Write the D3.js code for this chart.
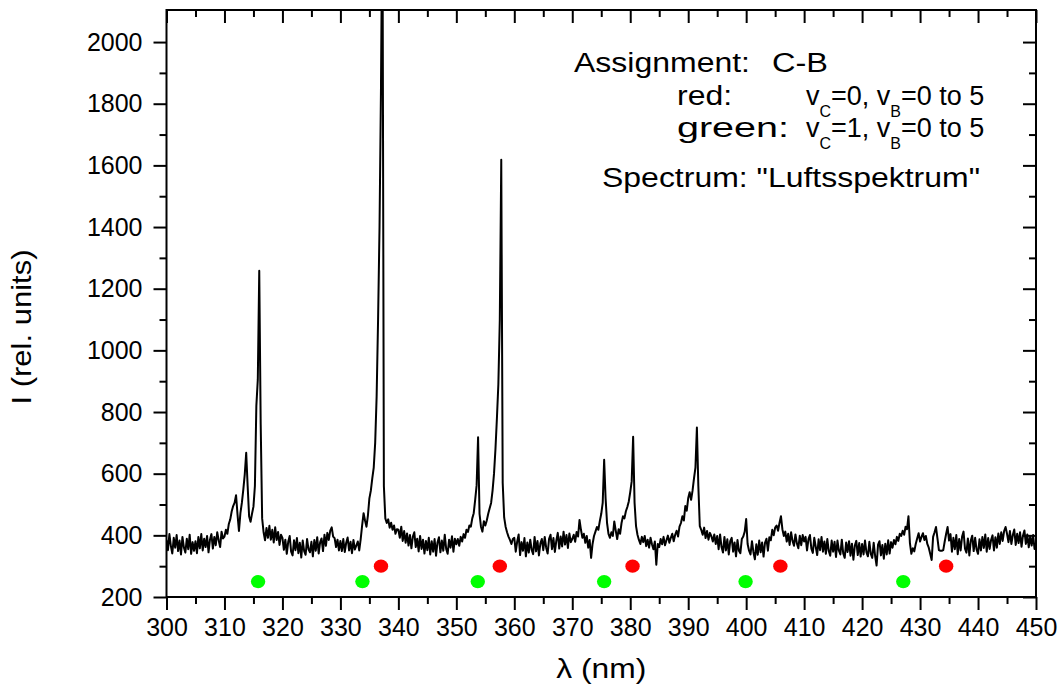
<!DOCTYPE html>
<html lang="en">
<head>
<meta charset="UTF-8">
<title>C-B bands, Luftsspektrum</title>
<script src="https://cdnjs.cloudflare.com/ajax/libs/d3/7.8.5/d3.min.js"></script>
<style>
body { margin: 0; background: #fff; }
text { font-family: Arial, "Liberation Sans", sans-serif; fill: #000; }
</style>
</head>
<body>
<svg id="chart" width="1061" height="688"></svg>
<script>
const lambdaStart = 300;
const lambdaStep = 0.25;
const intensity = [
	385, 352, 404, 366, 341, 392, 360, 401, 349, 383, 338, 395, 361, 344, 389, 355, 402, 340, 378, 350,
	381, 342, 395, 358, 404, 351, 389, 362, 398, 345, 386, 404, 357, 395, 368, 410, 384, 362, 412, 390,
	396, 418, 405, 437, 452, 478, 495, 506, 530, 468, 414, 472, 505, 548, 598, 668, 560, 462, 444, 470,
	493, 560, 820, 905, 1258, 760, 455, 410, 384, 424, 392, 431, 386, 418, 377, 426, 385, 411, 369, 402,
	392, 353, 386, 340, 379, 398, 347, 335, 384, 352, 391, 342, 376, 328, 383, 349, 337, 388, 355, 345,
	379, 332, 385, 350, 394, 341, 377, 390, 349, 402, 366, 408, 385, 415, 426, 396, 391, 362, 386, 351,
	382, 349, 388, 346, 376, 393, 351, 379, 342, 385, 354, 367, 380, 351, 388, 432, 472, 448, 428, 465,
	520, 545, 585, 620, 700, 850, 1100, 1400, 1850, 2500, 560, 455, 440, 452, 425, 441, 418, 432, 405, 420,
	418, 392, 428, 382, 414, 376, 406, 367, 401, 358, 396, 410, 362, 389, 348, 398, 356, 386, 341, 382,
	352, 392, 338, 381, 347, 388, 334, 377, 394, 345, 383, 350, 402, 356, 340, 386, 360, 397, 347, 389,
	371, 388, 366, 395, 380, 404, 392, 418, 411, 432, 428, 455, 472, 515, 562, 718, 470, 428, 412, 446,
	432, 448, 470, 488, 505, 545, 600, 680, 780, 890, 1100, 1618, 570, 458, 428, 410, 396, 385, 372, 388,
	392, 347, 380, 403, 336, 378, 350, 391, 332, 377, 344, 386, 353, 339, 395, 348, 382, 335, 374, 388,
	352, 395, 360, 341, 389, 402, 355, 391, 346, 383, 408, 357, 396, 364, 412, 370, 401, 359, 406, 378,
	388, 402, 379, 411, 396, 450, 418, 392, 405, 376, 398, 360, 385, 327, 372, 398, 412, 427, 418, 446,
	470, 505, 645, 520, 440, 405, 392, 410, 398, 445, 415, 388, 420, 405, 440, 462, 455, 478, 492, 510,
	540, 575, 720, 505, 430, 402, 385, 372, 395, 378, 398, 365, 386, 360, 392, 371, 355, 380, 305, 372,
	362, 388, 371, 395, 368, 384, 399, 376, 392, 405, 381, 402, 415, 396, 428, 440, 462, 448, 495, 480,
	520, 540, 515, 545, 585, 620, 750, 560, 430, 418, 402, 425, 391, 414, 386, 408, 397, 380, 403, 372,
	398, 355, 403, 362, 344, 395, 351, 387, 338, 381, 392, 347, 377, 332, 385, 350, 342, 388, 396, 412,
	453, 372, 350, 338, 381, 346, 322, 371, 337, 383, 345, 377, 331, 376, 389, 350, 394, 384, 418, 400,
	425, 432, 415, 440, 462, 420, 398, 412, 380, 405, 369, 410, 382, 366, 403, 374, 358, 399, 368, 401,
	380, 395, 351, 388, 401, 357, 343, 392, 363, 336, 387, 352, 395, 347, 380, 340, 388, 349, 334, 383,
	347, 379, 330, 383, 350, 338, 386, 341, 327, 377, 346, 381, 334, 373, 321, 367, 382, 336, 375, 331,
	372, 338, 383, 345, 332, 379, 340, 327, 376, 333, 302, 370, 381, 335, 369, 324, 373, 338, 384, 341,
	378, 360, 385, 371, 395, 382, 405, 398, 415, 402, 428, 420, 462, 375, 340, 358, 348, 372, 390, 407,
	380, 395, 407, 385, 398, 372, 360, 340, 320, 395, 410, 427, 390, 352, 350, 350, 352, 380, 405, 427,
	383, 404, 347, 392, 355, 401, 339, 388, 351, 396, 412, 357, 344, 390, 335, 383, 399, 349, 392, 354,
	340, 387, 351, 395, 359, 403, 347, 391, 356, 385, 400, 351, 394, 360, 406, 372, 410, 382, 414, 427,
	405, 378, 414, 372, 401, 419, 369, 405, 375, 410, 363, 399, 416, 372, 403, 361, 397, 367, 401, 356, 372
];

// band assignments (nm) and the level they are marked at
const redBands = [337.0, 357.5, 380.4, 405.9, 434.5];
const greenBands = [315.8, 333.8, 353.7, 375.5, 399.9, 427.1];
const redLevel = 300;
const greenLevel = 250;

const xTicks = [300, 310, 320, 330, 340, 350, 360, 370, 380, 390, 400, 410, 420, 430, 440, 450];
const yTicks = [200, 400, 600, 800, 1000, 1200, 1400, 1600, 1800, 2000];

const xLabel = "\u03bb (nm)";
const yLabel = "I (rel. units)";

const svg = d3.select("#chart");
const plotLeft = 166.5, plotRight = 1036, plotTop = 10, plotBottom = 597;

const x = d3.scaleLinear().domain([300, 450]).range([plotLeft, plotRight]);
const y = d3.scaleLinear().domain([200, 2104]).range([plotBottom, plotTop]);

const xMinor = d3.range(305, 450, 10);
const yMinor = d3.range(300, 2100, 200);

function styleAxis(g) {
	g.select(".domain").remove();
	g.attr("font-family", null).attr("font-size", null);
	g.selectAll(".tick line").attr("stroke", "#000").attr("stroke-width", 2);
	g.selectAll(".tick text").style("font-size", "25px").attr("fill", "#000");
}

// outer ticks bottom and left
svg.append("g").attr("transform", `translate(0,${plotBottom})`)
	.call(d3.axisBottom(x).tickValues(xTicks).tickSize(13).tickPadding(8).tickFormat(d3.format("d")))
	.call(styleAxis);
svg.append("g").attr("transform", `translate(0,${plotBottom})`)
	.call(d3.axisBottom(x).tickValues(xMinor).tickSize(7).tickFormat(""))
	.call(styleAxis);
svg.append("g").attr("transform", `translate(${plotLeft},0)`)
	.call(d3.axisLeft(y).tickValues(yTicks).tickSize(13).tickPadding(11).tickFormat(d3.format("d")))
	.call(styleAxis);
svg.append("g").attr("transform", `translate(${plotLeft},0)`)
	.call(d3.axisLeft(y).tickValues(yMinor).tickSize(7).tickFormat(""))
	.call(styleAxis);

// inner ticks top and right
svg.append("g").attr("transform", `translate(0,${plotTop})`)
	.call(d3.axisTop(x).tickValues(xTicks).tickSize(-13).tickFormat(""))
	.call(styleAxis);
svg.append("g").attr("transform", `translate(0,${plotTop})`)
	.call(d3.axisTop(x).tickValues(xMinor).tickSize(-7).tickFormat(""))
	.call(styleAxis);
svg.append("g").attr("transform", `translate(${plotRight},0)`)
	.call(d3.axisRight(y).tickValues(yTicks).tickSize(-13).tickFormat(""))
	.call(styleAxis);
svg.append("g").attr("transform", `translate(${plotRight},0)`)
	.call(d3.axisRight(y).tickValues(yMinor).tickSize(-7).tickFormat(""))
	.call(styleAxis);

svg.append("clipPath").attr("id", "plot-clip")
	.append("rect")
	.attr("x", plotLeft).attr("y", plotTop)
	.attr("width", plotRight - plotLeft).attr("height", plotBottom - plotTop);

const line = d3.line()
	.x((d, i) => x(lambdaStart + i * lambdaStep))
	.y(d => y(d));

svg.append("path")
	.attr("clip-path", "url(#plot-clip)")
	.attr("fill", "none")
	.attr("stroke", "#000")
	.attr("stroke-width", 2)
	.attr("stroke-linejoin", "round")
	.attr("d", line(intensity));

svg.append("g").selectAll("ellipse")
	.data(redBands)
	.join("ellipse")
	.attr("cx", d => x(d))
	.attr("cy", y(redLevel))
	.attr("rx", 7.2)
	.attr("ry", 6.6)
	.attr("fill", "#ff0000");

svg.append("g").selectAll("ellipse")
	.data(greenBands)
	.join("ellipse")
	.attr("cx", d => x(d))
	.attr("cy", y(greenLevel))
	.attr("rx", 7.2)
	.attr("ry", 6.6)
	.attr("fill", "#00ff00");

svg.append("rect")
	.attr("x", plotLeft).attr("y", plotTop)
	.attr("width", plotRight - plotLeft).attr("height", plotBottom - plotTop)
	.attr("fill", "none")
	.attr("stroke", "#000")
	.attr("stroke-width", 2);

// axis titles
svg.append("text")
	.attr("x", (plotLeft + plotRight) / 2)
	.attr("y", 678)
	.attr("text-anchor", "middle")
	.attr("textLength", 90)
	.attr("lengthAdjust", "spacingAndGlyphs")
	.style("font-size", "28px")
	.text(xLabel);

svg.append("text")
	.attr("transform", "translate(31,327) rotate(-90)")
	.attr("text-anchor", "middle")
	.attr("textLength", 155)
	.attr("lengthAdjust", "spacingAndGlyphs")
	.style("font-size", "28px")
	.text(yLabel);

// annotation
const note = svg.append("g").style("font-size", "27px");

function noteText(str, xPos, yPos, len) {
	return note.append("text")
		.attr("x", xPos).attr("y", yPos)
		.attr("textLength", len)
		.attr("lengthAdjust", "spacingAndGlyphs")
		.text(str);
}

noteText("Assignment:", 574, 72, 176);
noteText("C-B", 772, 72, 56);

function vibLine(label, yPos, vc, labelLen) {
	noteText(label, 677, yPos, labelLen);
	const t = note.append("text").attr("x", 806).attr("y", yPos);
	t.append("tspan").text("v");
	t.append("tspan").attr("dy", 12).style("font-size", "16px").text("C");
	t.append("tspan").attr("dy", -12).text("=" + vc + ", v");
	t.append("tspan").attr("dy", 12).style("font-size", "16px").text("B");
	t.append("tspan").attr("dy", -12).text("=0 to 5");
}
vibLine("red:", 105, 0, 55);
vibLine("green:", 137, 1, 112);

noteText("Spectrum: \"Luftsspektrum\"", 602, 187, 378);
</script>
</body>
</html>
